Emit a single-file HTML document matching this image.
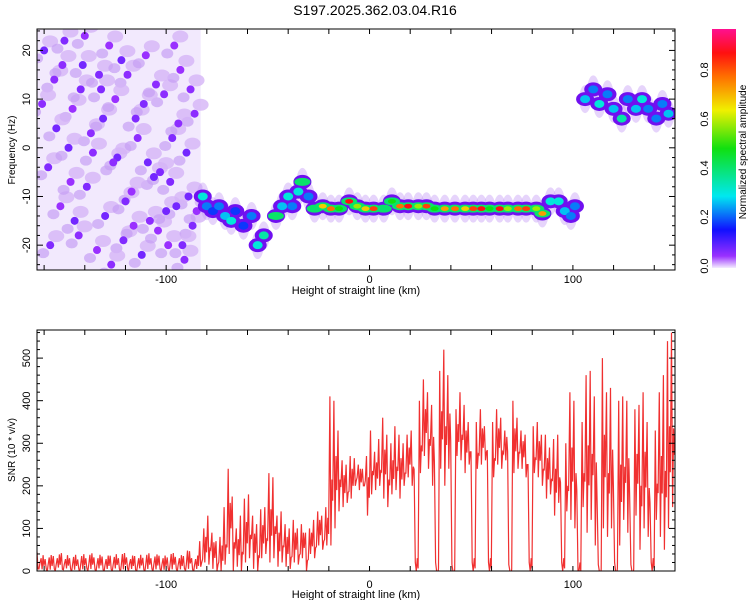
<!DOCTYPE html>
<html><head><meta charset="utf-8"><style>
html,body{margin:0;padding:0;background:#fff;}
svg{display:block;font-family:"Liberation Sans",sans-serif;}
</style></head><body>
<svg id="c" width="750" height="600" viewBox="0 0 750 600" xmlns="http://www.w3.org/2000/svg">
<defs>
<linearGradient id="cb" x1="0" y1="1" x2="0" y2="0">
<stop offset="0" stop-color="#f4ecff"/><stop offset="0.05" stop-color="#9a30ff"/><stop offset="0.16" stop-color="#1010ff"/>
<stop offset="0.3" stop-color="#00e8f0"/><stop offset="0.5" stop-color="#10e010"/><stop offset="0.66" stop-color="#f0f000"/>
<stop offset="0.8" stop-color="#ff7000"/><stop offset="0.9" stop-color="#ff1010"/><stop offset="1" stop-color="#ff1090"/>
</linearGradient>
<clipPath id="clipT"><rect x="37" y="29" width="638" height="241"/></clipPath>
<clipPath id="clipB"><rect x="37" y="330" width="638" height="241"/></clipPath>
</defs>
<text x="375" y="15" text-anchor="middle" font-size="14">S197.2025.362.03.04.R16</text>
<g id="topg" clip-path="url(#clipT)"></g>
<g id="botg" clip-path="url(#clipB)"></g>
<g id="axes"></g>
</svg>
<script>
// ---- data ----
const xMin=-163.5, xMax=150.2;
const fMin=-25.1, fMax=24.4;
const snrMax=566;
const xTickLabels=[-100,0,100];
const fTickLabels=[-20,-10,0,10,20];
const snrTickLabels=[0,100,200,300,400,500];
const cbTickLabels=[0.0,0.2,0.4,0.6,0.8];
// SNR bins (2 km from -163)
const snrStart=-163, snrStep=2;
const snrHigh=[45,30,28,32,35,30,42,28,30,33,27,35,30,38,32,30,34,28,36,33,30,40,32,28,35,30,31,38,30,34,36,30,32,40,33,30,35,48,30,28,
70,100,130,90,70,80,150,240,175,100,130,170,180,130,110,145,150,230,220,130,140,110,100,120,100,110,90,100,120,140,130,150,
410,400,330,260,250,270,265,250,240,270,
330,280,310,360,320,300,340,320,300,320,330,20,400,450,420,390,20,470,520,460,15,380,420,390,350,20,350,380,340,20,350,380,360,330,15,400,360,330,320,20,340,350,320,320,290,310,320,20,300,420,400,0,350,460,470,410,15,500,420,430,20,400,410,400,15,380,390,420,350,20,330,420,460,540,560];
const snrLow=[5,4,6,3,5,8,4,6,5,3,6,4,7,5,4,6,3,5,4,6,5,4,7,5,3,6,4,5,6,4,5,3,6,4,5,4,6,5,4,5,
10,20,15,5,0,0,15,40,0,10,0,20,30,5,0,30,40,20,30,10,20,10,5,20,15,30,0,40,30,60,50,60,
60,100,140,150,160,170,200,190,200,130,
180,190,200,170,150,180,190,170,200,220,200,0,230,270,240,200,0,240,200,240,0,270,260,230,250,0,240,250,260,0,220,250,240,260,0,230,240,240,220,0,230,220,200,170,180,130,160,0,140,120,100,0,150,90,120,60,0,100,80,100,0,60,120,90,0,130,50,100,80,0,120,80,50,100,150];
// spectrogram ridge blobs
const ridgeX=[-82,-80,-77,-74,-71,-68,-66,-62,-58,-55,-52,-46,-43,-40,-38,-35,-33,-30,
-27,-23,-19,-15,-10,-6,-2,2,7,11,15,19,24,28,32,37,42,47,51,55,59,64,68,73,77,82,85,89,93,96,99,101,
106,110,113,117,120,124,127,131,134,137,141,144,147];
const ridgeF=[-10,-12,-13,-12,-14,-15,-13,-16,-14,-20,-18,-14,-12,-10,-12,-9,-7,-10,
-12.5,-12,-12.5,-12.5,-11,-12,-12.5,-12.5,-12.5,-11,-12,-12,-12,-12,-12.5,-12.5,-12.5,-12.5,-12.5,-12.5,-12.5,-12.5,-12.5,-12.5,-12.5,-12.5,-13.5,-11,-11,-13,-14,-12,
10,12,9,11,8,6,10,8,10,8,6,9,7];
const ridgeA=[0.3,0.2,0.15,0.2,0.25,0.3,0.15,0.15,0.2,0.3,0.35,0.4,0.25,0.3,0.2,0.3,0.4,0.2,
0.4,0.7,0.8,0.5,0.9,0.6,0.7,0.85,0.4,0.5,0.8,0.9,0.6,0.85,0.5,0.75,0.8,0.7,0.85,0.9,0.5,0.9,0.6,0.8,0.85,0.6,0.75,0.3,0.3,0.25,0.2,0.2,
0.25,0.2,0.3,0.2,0.25,0.35,0.2,0.25,0.3,0.2,0.2,0.2,0.25];
// noise blobs in left region
const noiseX=[-160,-155,-150,-146,-141,-137,-132,-128,-124,-119,-115,-110,-106,-101,-97,-93,-89,-86,
-158,-152,-148,-143,-139,-134,-130,-126,-121,-117,-112,-108,-103,-99,-95,-91,-87,
-161,-154,-147,-142,-136,-131,-125,-120,-114,-109,-104,-98,-94,-90,-85,
-157,-151,-145,-140,-133,-127,-122,-116,-111,-105,-100,-96,-92,-88];
const noiseF=[20,14,22,8,17,3,12,21,-2,15,6,19,-6,11,2,16,-10,7,
-4,-12,0,-18,-8,-21,-14,-3,-19,-9,-22,-15,-5,-20,-12,-23,-16,
9,4,-7,12,-1,6,10,-11,2,-3,-17,-7,5,-1,-13,
-20,17,-15,23,15,-24,18,-16,9,13,-13,21,-20,12];
const noiseA=[0.08,0.06,0.07,0.05,0.08,0.06,0.07,0.05,0.08,0.06,0.07,0.05,0.08,0.06,0.07,0.05,0.08,0.06,
0.07,0.05,0.08,0.06,0.07,0.05,0.08,0.06,0.07,0.05,0.08,0.06,0.07,0.05,0.08,0.06,0.07,
0.06,0.08,0.05,0.07,0.06,0.08,0.05,0.07,0.06,0.08,0.05,0.07,0.06,0.08,0.05,
0.07,0.06,0.08,0.05,0.07,0.06,0.08,0.05,0.07,0.06,0.08,0.05,0.07,0.06];

// ---- scales ----
const L=37,R=675,TT=29,TB=270,BT=330,BB=571;
const xs=v=>L+(v-xMin)/(xMax-xMin)*(R-L);
const fy=v=>TB-(v-fMin)/(fMax-fMin)*(TB-TT);
const sy=v=>BB-v/snrMax*(BB-BT);
const NS='http://www.w3.org/2000/svg';
function mk(tag,attrs,parent){const e=document.createElementNS(NS,tag);for(const k in attrs)e.setAttribute(k,attrs[k]);parent.appendChild(e);return e;}
const stops=[[0,[244,236,255]],[0.05,[154,48,255]],[0.16,[16,16,255]],[0.3,[0,232,240]],[0.5,[16,224,16]],[0.66,[240,240,0]],[0.8,[255,112,0]],[0.9,[255,16,16]],[1,[255,16,144]]];
function cmap(a){for(let i=1;i<stops.length;i++){if(a<=stops[i][0]){const[t0,c0]=stops[i-1],[t1,c1]=stops[i];const t=(a-t0)/(t1-t0);return 'rgb('+c0.map((c,j)=>Math.round(c+(c1[j]-c)*t)).join(',')+')';}}return 'rgb(255,16,144)';}

const topG=document.getElementById('topg');
const bg=mk('rect',{x:xs(xMin),y:TT,width:xs(-83)-xs(xMin),height:TB-TT,fill:'#efe3fc',opacity:0.8},topG);


for(let i=0;i<noiseX.length;i++){
  mk('ellipse',{cx:xs(noiseX[i])+6,cy:fy(noiseF[i])-9,rx:8,ry:6,fill:'#d4b4f6',opacity:0.8},topG);
  mk('ellipse',{cx:xs(noiseX[i])-7,cy:fy(noiseF[i])+8,rx:6,ry:5,fill:'#c69ef4',opacity:0.7},topG);
}
for(let i=0;i<noiseX.length;i++){
  const e=mk('ellipse',{cx:xs(noiseX[i]),cy:fy(noiseF[i]),rx:4,ry:4,fill:cmap(noiseA[i])},topG);
  
  
}
for(let i=0;i<ridgeX.length;i++){
  const h=mk('ellipse',{cx:xs(ridgeX[i]),cy:fy(ridgeF[i]),rx:6,ry:14,fill:'#c8a0f6',opacity:0.45},topG);
  
  
}
for(let i=0;i<ridgeX.length;i++){
  const h=mk('ellipse',{cx:xs(ridgeX[i]),cy:fy(ridgeF[i]),rx:9,ry:7,fill:'#7010f0'},topG);
  
  
}
for(let i=0;i<ridgeX.length;i++){
  const a=ridgeA[i];
  const c=mk('ellipse',{cx:xs(ridgeX[i]),cy:fy(ridgeF[i]),rx:a>0.35?8:5,ry:4,fill:a>0.35?cmap(0.42):cmap(Math.min(a,0.35)*0.9+0.05)},topG);
  
  
}
for(let i=0;i<ridgeX.length;i++){
  const a=ridgeA[i];
  if(a>0.4){const d=mk('ellipse',{cx:xs(ridgeX[i]),cy:fy(ridgeF[i]),rx:4,ry:2.4,fill:cmap(a)},topG);
  
  }
}

// SNR line
const botG=document.getElementById('botg');
let pts=[];
for(let i=0;i<snrHigh.length;i++){
  const x0=snrStart+i*snrStep;
  pts.push(xs(x0-0.5).toFixed(1)+','+sy(snrHigh[i]).toFixed(1));
  pts.push(xs(x0).toFixed(1)+','+sy(snrLow[i]).toFixed(1));
  pts.push(xs(x0+0.5).toFixed(1)+','+sy((snrHigh[i]+snrLow[i])/2+(i%2?20:-20)).toFixed(1));
  pts.push(xs(x0+0.9).toFixed(1)+','+sy(snrLow[i]+(snrHigh[i]-snrLow[i])*0.3).toFixed(1));
}
const pl=mk('polyline',{points:pts.join(' '),fill:'none',stroke:'#f03030','stroke-width':1.2},botG);



// ---- axes ----
const ax=document.getElementById('axes');
function frame(y0,y1,nm){const r=mk('rect',{x:L,y:y0,width:R-L,height:y1-y0,fill:'none',stroke:'#000','stroke-width':1},ax);}
frame(TT,TB,'spectrogram-frame');frame(BT,BB,'snr-frame');
function xaxis(y0,y1,ly,ty,nm){
  for(let v=-160;v<=140;v+=20){const x=xs(v);mk('line',{x1:x,y1:y1,x2:x,y2:y1-5,stroke:'#000'},ax);mk('line',{x1:x,y1:y0,x2:x,y2:y0+5,stroke:'#000'},ax);}
  for(const v of xTickLabels){const t=mk('text',{x:xs(v),y:ly,'text-anchor':'middle','font-size':11},ax);t.textContent=v;}
  const t=mk('text',{x:356,y:ty,'text-anchor':'middle','font-size':11},ax);t.textContent='Height of straight line (km)';
}
xaxis(TT,TB,283,294,'x-axis-title-top');
xaxis(BT,BB,588,598,'x-axis-title-bottom');
for(let v=-24;v<=24;v+=2){const y=fy(v);const len=v%10===0?6:3;mk('line',{x1:L,y1:y,x2:L+len,y2:y,stroke:'#000'},ax);mk('line',{x1:R,y1:y,x2:R-len,y2:y,stroke:'#000'},ax);}
for(const v of fTickLabels){const y=fy(v);const t=mk('text',{transform:`translate(30,${y}) rotate(-90)`,'text-anchor':'middle','font-size':11},ax);t.textContent=v;}
{const t=mk('text',{transform:`translate(15,150) rotate(-90)`,'text-anchor':'middle','font-size':10},ax);t.textContent='Frequency (Hz)';}
for(let v=0;v<=560;v+=20){const y=sy(v);const len=v%100===0?6:3;mk('line',{x1:L,y1:y,x2:L+len,y2:y,stroke:'#000'},ax);mk('line',{x1:R,y1:y,x2:R-len,y2:y,stroke:'#000'},ax);}
for(const v of snrTickLabels){const y=sy(v);const t=mk('text',{transform:`translate(30,${y}) rotate(-90)`,'text-anchor':'middle','font-size':11},ax);t.textContent=v;}
{const t=mk('text',{transform:`translate(15,450) rotate(-90)`,'text-anchor':'middle','font-size':10},ax);t.textContent='SNR (10 * v/v)';}
// colorbar
const cbTop=29,cbBot=268;
const cb=mk('rect',{x:712,y:cbTop,width:24,height:cbBot-cbTop,fill:'url(#cb)'},ax);


const cy=v=>cbBot-2-v/0.2*49;
for(const v of cbTickLabels){const t=mk('text',{transform:`translate(708,${cy(v)}) rotate(-90)`,'text-anchor':'middle','font-size':11},ax);t.textContent=v.toFixed(1);}
{const t=mk('text',{transform:`translate(746,152) rotate(-90)`,'text-anchor':'middle','font-size':10},ax);t.textContent='Normalized spectral amplitude';}
</script>
</body></html>
